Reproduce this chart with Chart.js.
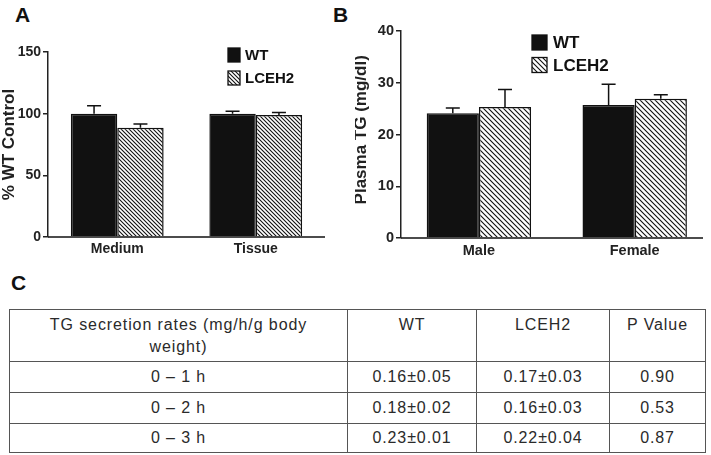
<!DOCTYPE html>
<html>
<head>
<meta charset="utf-8">
<script src="https://cdn.jsdelivr.net/npm/chart.js@4.4.1/dist/chart.umd.min.js"></script>
<style>
  html, body { margin: 0; padding: 0; background: #fff; overflow: hidden; }
  body { width: 711px; height: 455px; position: relative; font-family: "Liberation Sans", Arial, sans-serif; }
  .panel { position: absolute; font-weight: bold; font-size: 21px; line-height: 1; color: #111; }
  #chart-a { position: absolute; left: 0; top: 0; }
  #chart-b { position: absolute; left: 355px; top: 0; }
  #tbl { position: absolute; left: 9px; top: 309px; width: 697px; border-collapse: collapse; table-layout: fixed;
         color: #2a2a2a; font-size: 16px; letter-spacing: 0.9px; }
  #tbl td { border: 1px solid #555; text-align: center; padding: 0; vertical-align: middle; }
  #tbl tr.head td { vertical-align: top; padding-top: 4px; line-height: 22px; }
</style>
</head>
<body>
<div class="panel" style="left:15px;top:4px">A</div>
<div class="panel" style="left:333px;top:4px">B</div>
<div class="panel" style="left:11px;top:272px">C</div>
<canvas id="chart-a" width="355" height="270"></canvas>
<canvas id="chart-b" width="360" height="270"></canvas>
<table id="tbl">
  <colgroup><col style="width:338px"><col style="width:129px"><col style="width:133px"><col style="width:96px"></colgroup>
  <tbody></tbody>
</table>
<script>
// panel A
const catsA = ["Medium", "Tissue"];
const wtA = [100, 100];
const wtErrA = [6.5, 1.9];
const koA = [88.5, 98.9];
const koErrA = [3.2, 2.1];

// panel B
const catsB = ["Male", "Female"];
const wtB = [24.1, 25.7];
const wtErrB = [1.0, 4.0];
const koB = [25.3, 26.9];
const koErrB = [3.4, 0.8];

const seriesNames = ["WT", "LCEH2"];

// panel C
const tableHead = ["TG secretion rates (mg/h/g body<br>weight)", "WT", "LCEH2", "P Value"];
const tablePeriods = ["0 \u2013 1 h", "0 \u2013 2 h", "0 \u2013 3 h"];
const tableWT = ["0.16\u00b10.05", "0.18\u00b10.02", "0.23\u00b10.01"];
const tableKO = ["0.17\u00b10.03", "0.16\u00b10.03", "0.22\u00b10.04"];
const tableP = ["0.90", "0.53", "0.87"];

const FONT = "'Liberation Sans', Arial, sans-serif";
const INK = "#111";

function hatch(ctx, size) {
  const c = document.createElement("canvas");
  c.width = size; c.height = size;
  const g = c.getContext("2d");
  g.fillStyle = "#fff";
  g.fillRect(0, 0, size, size);
  g.strokeStyle = INK;
  g.lineWidth = 1.1;
  g.beginPath();
  g.moveTo(0, 0); g.lineTo(size, size);
  g.moveTo(-1, size - 1); g.lineTo(1, size + 1);
  g.moveTo(size - 1, -1); g.lineTo(size + 1, 1);
  g.stroke();
  return ctx.createPattern(c, "repeat");
}

// error bars, baseline and legend
const extras = {
  id: "extras",
  afterDatasetsDraw(chart, args, opts) {
    const ctx = chart.ctx, y = chart.scales.y, area = chart.chartArea;
    ctx.save();
    ctx.strokeStyle = INK;
    ctx.lineWidth = 1.5;
    chart.data.datasets.forEach((ds, i) => {
      chart.getDatasetMeta(i).data.forEach((bar, j) => {
        const top = y.getPixelForValue(ds.data[j] + ds.errors[j]);
        ctx.beginPath();
        ctx.moveTo(bar.x, bar.y); ctx.lineTo(bar.x, top);
        ctx.moveTo(bar.x - opts.cap, top); ctx.lineTo(bar.x + opts.cap, top);
        ctx.stroke();
      });
    });
    ctx.beginPath();
    ctx.moveTo(area.left, area.bottom);
    ctx.lineTo(opts.axisEnd, area.bottom);
    ctx.stroke();

    const lg = opts.legend;
    ctx.font = "bold " + lg.size + "px " + FONT;
    ctx.textBaseline = "middle";
    chart.data.datasets.forEach((ds, i) => {
      const cy = lg.rows[i];
      ctx.fillStyle = ds.backgroundColor;
      ctx.fillRect(lg.x, cy - lg.h / 2, lg.w, lg.h);
      ctx.lineWidth = 1.3;
      ctx.strokeRect(lg.x, cy - lg.h / 2, lg.w, lg.h);
      ctx.fillStyle = INK;
      ctx.fillText(ds.label, lg.textX, cy + 1);
    });
    ctx.restore();
  }
};

function barChart(id, cats, wt, wtErr, ko, koErr, cfg) {
  const canvas = document.getElementById(id);
  const ctx = canvas.getContext("2d");
  return new Chart(canvas, {
    type: "bar",
    data: {
      labels: cats,
      datasets: [
        { label: seriesNames[0], data: wt, errors: wtErr, backgroundColor: INK, borderColor: INK, borderWidth: 1.5 },
        { label: seriesNames[1], data: ko, errors: koErr, backgroundColor: hatch(ctx, cfg.hatch), borderColor: INK, borderWidth: 1.5 },
      ],
    },
    options: {
      responsive: false,
      animation: false,
      devicePixelRatio: 1,
      layout: { padding: cfg.padding },
      categoryPercentage: 0.67,
      barPercentage: 1,
      scales: {
        x: {
          grid: { display: false, drawTicks: false },
          border: { display: false },
          ticks: { font: { family: FONT, size: cfg.xFont, weight: "bold" }, color: "#222", padding: 4 },
          afterFit: (s) => { s.height = cfg.xHeight; },
        },
        y: {
          min: 0,
          max: cfg.max,
          ticks: { stepSize: cfg.step, font: { family: FONT, size: cfg.yFont, weight: "bold" }, color: "#222", padding: 2 },
          grid: { drawOnChartArea: false, tickLength: 5, color: "#222", lineWidth: 1.5 },
          border: { display: true, color: "#222", width: 1.5 },
          title: {
            display: true,
            text: cfg.title,
            color: "#222",
            font: { family: FONT, size: cfg.titleFont, weight: "bold", lineHeight: cfg.titleLH },
            padding: 0,
          },
          afterFit: (s) => { s.width = cfg.yWidth; },
        },
      },
      plugins: {
        legend: { display: false },
        tooltip: { enabled: false },
        extras: { cap: 7, axisEnd: cfg.axisEnd, legend: cfg.legend },
      },
    },
    plugins: [extras],
  });
}

barChart("chart-a", catsA, wtA, wtErrA, koA, koErrA, {
  padding: { top: 52, right: 30, bottom: 0, left: 0 },
  yWidth: 48, xHeight: 33, axisEnd: 325,
  max: 150, step: 50, hatch: 4,
  xFont: 14, yFont: 14, title: "% WT Control", titleFont: 17, titleLH: 1.1,
  legend: { x: 228, w: 12, h: 14, rows: [55, 78], textX: 245, size: 15 },
});

barChart("chart-b", catsB, wtB, wtErrB, koB, koErrB, {
  padding: { top: 31, right: 2.4, bottom: 0, left: 0 },
  yWidth: 46, xHeight: 32, axisEnd: 348,
  max: 40, step: 10, hatch: 5,
  xFont: 14.5, yFont: 14.5, title: "\u00a0\u00a0Plasma TG (mg/dl)", titleFont: 17, titleLH: 0.7,
  legend: { x: 177, w: 15, h: 15, rows: [42.5, 65], textX: 198, size: 17 },
});

// table C
const body = document.querySelector("#tbl tbody");
const heights = [52, 31, 31, 29];
let html = '<tr class="head" style="height:' + heights[0] + 'px">' + tableHead.map(h => "<td>" + h + "</td>").join("") + "</tr>";
tablePeriods.forEach((p, i) => {
  html += '<tr style="height:' + heights[i + 1] + 'px"><td>' + p + "</td><td>" + tableWT[i] + "</td><td>" + tableKO[i] + "</td><td>" + tableP[i] + "</td></tr>";
});
body.innerHTML = html;
</script>
</body>
</html>
